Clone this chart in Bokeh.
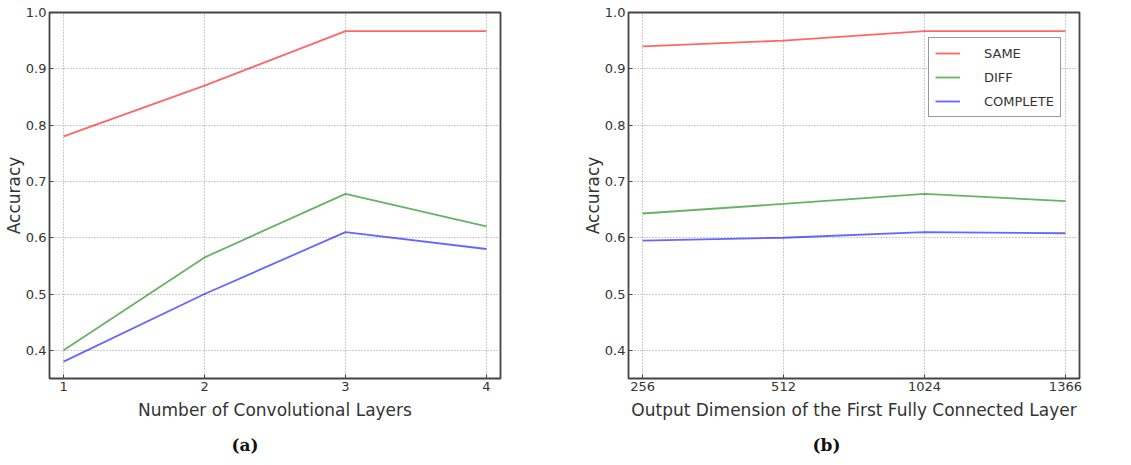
from bokeh.plotting import figure
from bokeh.layouts import row
from bokeh.models import Range1d, FixedTicker, PrintfTickFormatter, Title, Legend, LegendItem
from bokeh.embed import file_html
from bokeh.resources import INLINE

# ---- data ----
layers = [1, 2, 3, 4]
same_a = [0.78, 0.87, 0.967, 0.967]
diff_a = [0.40, 0.565, 0.678, 0.62]
comp_a = [0.38, 0.50, 0.61, 0.58]

dims = ["256", "512", "1024", "1366"]
same_b = [0.94, 0.95, 0.967, 0.967]
diff_b = [0.643, 0.66, 0.678, 0.665]
comp_b = [0.595, 0.60, 0.61, 0.608]

y_ticks = [0.4, 0.5, 0.6, 0.7, 0.8, 0.9, 1.0]
series_names = ["SAME", "DIFF", "COMPLETE"]
colors = ["red", "green", "blue"]

FONT = "DejaVu Sans"
TXT = "#333333"


def style(p, xlabel, caption, cap_offset):
    p.outline_line_color = "#444444"
    p.outline_line_width = 1.8
    p.yaxis.ticker = FixedTicker(ticks=y_ticks)
    p.yaxis.formatter = PrintfTickFormatter(format="%.1f")
    for ax in p.xaxis + p.yaxis:
        ax.axis_line_color = None
        ax.major_tick_in = 4
        ax.major_tick_out = 0
        ax.minor_tick_line_color = None
        ax.major_tick_line_color = "#444444"
        ax.major_label_text_font = FONT
        ax.major_label_text_font_size = "13px"
        ax.major_label_text_color = TXT
        ax.axis_label_text_font = FONT
        ax.axis_label_text_font_size = "17px"
        ax.axis_label_text_font_style = "normal"
        ax.axis_label_text_color = TXT
        ax.major_label_standoff = 3
    p.xaxis.axis_label = xlabel
    p.xaxis.axis_label_standoff = 6
    p.yaxis.axis_label = "Accuracy"
    p.yaxis.axis_label_standoff = -1
    for g in p.xgrid + p.ygrid:
        g.grid_line_color = "#999999"
        g.grid_line_dash = "1 2"
        g.grid_line_width = 1
    p.ygrid.ticker = FixedTicker(ticks=y_ticks)
    t = Title(text=caption, text_font="DejaVu Serif", text_font_size="17px",
              text_font_style="bold", text_color="#111111", align="left",
              offset=cap_offset, standoff=21)
    p.add_layout(t, "below")


# ---- panel (a) ----
pa = figure(width=565, height=465, x_range=Range1d(0.9, 4.1), y_range=Range1d(0.35, 1.0),
            output_backend="svg", toolbar_location=None,
            min_border_left=49, min_border_right=65, min_border_top=12, min_border_bottom=10)
for ys, c in zip([same_a, diff_a, comp_a], colors):
    pa.line(layers, ys, line_color=c, line_alpha=0.6, line_width=1.8)
pa.xaxis.ticker = FixedTicker(ticks=layers)
style(pa, "Number of Convolutional Layers", "(a)", 182)

# ---- panel (b) ----
xb = list(range(len(dims)))
pb = figure(width=566, height=465, x_range=Range1d(-0.1, 3.1), y_range=Range1d(0.35, 1.0),
            output_backend="svg", toolbar_location=None,
            min_border_left=63, min_border_right=52, min_border_top=12, min_border_bottom=10)
items = []
for ys, c, n in zip([same_b, diff_b, comp_b], colors, series_names):
    rr = pb.line(xb, ys, line_color=c, line_alpha=0.6, line_width=1.8)
    items.append(LegendItem(label=n, renderers=[rr]))
pb.xaxis.ticker = FixedTicker(ticks=xb)
pb.xaxis.major_label_overrides = {i: d for i, d in enumerate(dims)}
style(pb, "Output Dimension of the First Fully Connected Layer", "(b)", 184)

leg = Legend(items=items, location=(300, 261), margin=0, padding=6,
             glyph_width=25, glyph_height=18, label_height=18, spacing=6,
             label_standoff=24, label_text_font=FONT, label_text_font_size="13px",
             label_text_color=TXT, border_line_color="#333333", border_line_width=1.5,
             background_fill_color="white")
pb.add_layout(leg, "center")

layout = row(pa, pb, spacing=0)
open("out.html", "w").write(file_html(layout, INLINE))
